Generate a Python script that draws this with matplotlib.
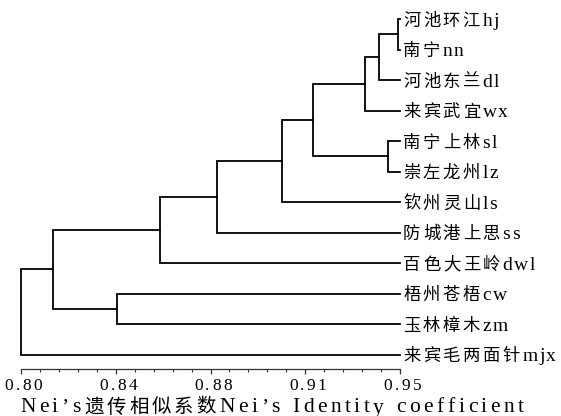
import numpy as np
import matplotlib
matplotlib.use('Agg')
import matplotlib.pyplot as plt
from matplotlib.transforms import offset_copy

# leaves, top to bottom
leaves = ['河池环江hj', '南宁nn', '河池东兰dl', '来宾武宜wx', '南宁上林sl', '崇左龙州lz',
          '钦州灵山ls', '防城港上思ss', '百色大王岭dwl', '梧州苍梧cw', '玉林樟木zm',
          '来宾毛两面针mjx']
# joins: child a, child b, Nei's identity of the join (new node ids start at len(leaves))
merges = [
    (0, 1, 0.9494),
    (12, 2, 0.9415),
    (13, 3, 0.9360),
    (4, 5, 0.9453),
    (14, 15, 0.9156),
    (16, 6, 0.9034),
    (17, 7, 0.8777),
    (18, 8, 0.8550),
    (9, 10, 0.8380),
    (19, 20, 0.8125),
    (21, 11, 0.8000),
]
leaf_tip = 0.95
major_ticks = [0.80, 0.8375, 0.875, 0.9125, 0.95]
tick_labels = ['0.80', '0.84', '0.88', '0.91', '0.95']
minor_ticks = np.arange(0.80, 0.95 + 1e-9, 0.0075)
xlabel = 'Nei’s遗传相似系数Nei’s Identity coefficient'

plt.rcParams['font.family'] = ['Liberation Serif', 'Noto Sans CJK SC']

fig = plt.figure(figsize=(5.61, 4.16), dpi=100)
ax = fig.add_axes([21 / 561, 47 / 416, 379 / 561, 369 / 416])
renderer = fig.canvas.get_renderer()


def is_cjk(ch):
    return ord(ch) > 0x2e80


def ink_width(ch, size):
    if ch == ' ':
        return 0.25 * size * fig.dpi / 72
    t = fig.text(0, 0, ch, fontsize=size)
    w = t.get_window_extent(renderer).width
    t.remove()
    return w


def spaced_text(x, y, s, trans, size_cjk=12, size_lat=12, gap_lat=3.5, gap_cjk=1.5,
                ha='left', dx=0, dy=0):
    # one char at a time, the scan has wide letter spacing
    sizes = [size_cjk if is_cjk(c) else size_lat for c in s]
    widths = [ink_width(c, sz) for c, sz in zip(s, sizes)]
    gaps = [gap_cjk if is_cjk(c) else gap_lat for c in s]
    total = sum(widths) + sum(gaps[:-1])
    off = dx - total / 2 if ha == 'center' else dx
    for c, sz, w, g in zip(s, sizes, widths, gaps):
        if c != ' ':
            ax.text(x, y, c, fontsize=sz, ha='left', va='baseline', clip_on=False,
                    transform=offset_copy(trans, fig=fig, x=off, y=dy, units='dots'))
        off += w + g


# dendrogram
n = len(leaves)
xs = {i: leaf_tip for i in range(n)}
ys = {i: float(i) for i in range(n)}
for k, (a, b, sim) in enumerate(merges):
    ax.plot([xs[a], sim, sim, xs[b]], [ys[a], ys[a], ys[b], ys[b]],
            color='black', lw=1.3, solid_joinstyle='miter', clip_on=False)
    xs[n + k] = sim
    ys[n + k] = (ys[a] + ys[b]) / 2

ax.set_xlim(0.80, 0.95)
ax.set_ylim(11.475, -0.623)

for side in ['left', 'right', 'top']:
    ax.spines[side].set_visible(False)
ax.spines['bottom'].set_linewidth(0.9)
ax.spines['bottom'].set_color('#333333')
ax.set_yticks([])
ax.set_xticks(major_ticks)
ax.set_xticklabels([])
ax.set_xticks(minor_ticks, minor=True)
ax.tick_params(axis='x', which='major', direction='out', length=3.5, width=0.9, color='#333333')
ax.tick_params(axis='x', which='minor', direction='out', length=2.5, width=0.8, color='#333333')

for t, lab in zip(major_ticks, tick_labels):
    spaced_text(t, 0, lab, ax.get_xaxis_transform(), size_lat=12.5, gap_lat=2.5,
                ha='center', dx=2.5, dy=-21)

for i, lab in enumerate(leaves):
    spaced_text(leaf_tip, i, lab, ax.transData, size_cjk=12.5, size_lat=14,
                gap_lat=1.5, gap_cjk=2.5, dx=3, dy=-6.5)

spaced_text(20 / 561, 3.5 / 416, xlabel, fig.transFigure, size_cjk=14, size_lat=15.5,
            gap_lat=3.5, gap_cjk=3)

plt.savefig('out.png', dpi=100)
